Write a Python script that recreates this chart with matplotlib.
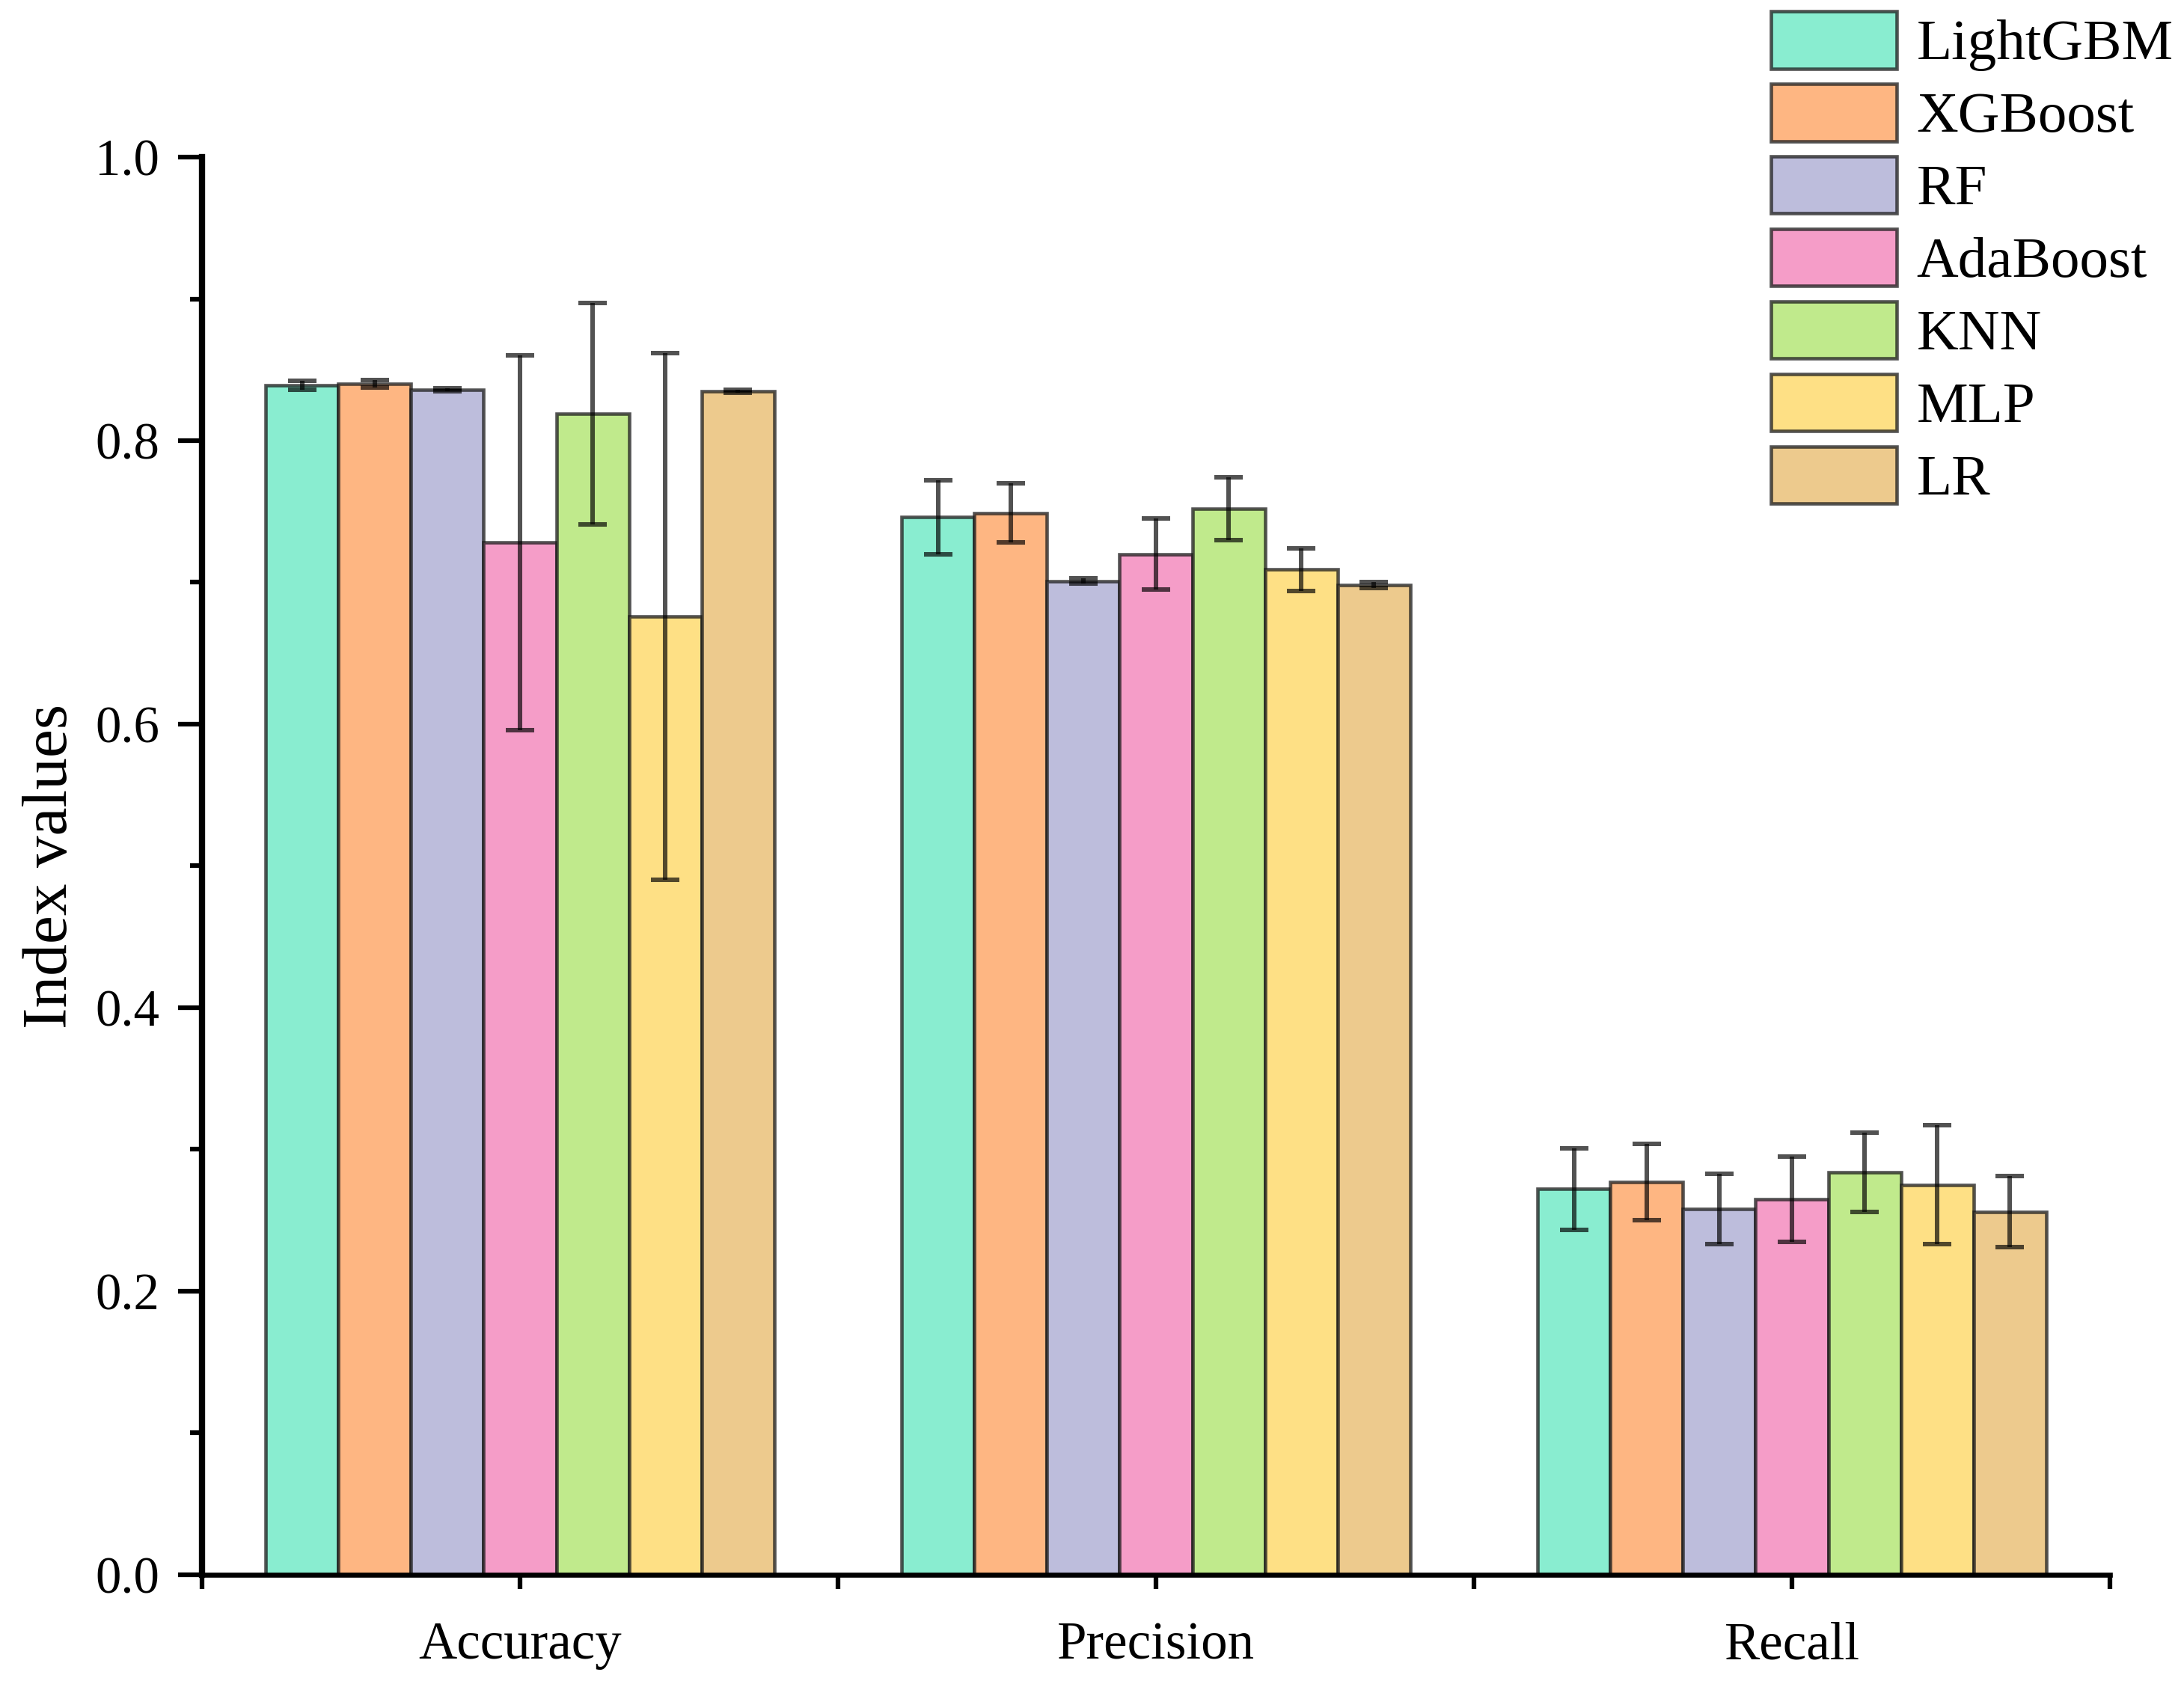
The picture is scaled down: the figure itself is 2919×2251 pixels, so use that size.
import matplotlib
matplotlib.use("Agg")
import matplotlib.pyplot as plt
import numpy as np
from matplotlib.ticker import FixedLocator, MultipleLocator

plt.rcParams['font.family'] = ['Liberation Serif', 'DejaVu Serif']

metrics = ["Accuracy", "Precision", "Recall"]
models = ["LightGBM", "XGBoost", "RF", "AdaBoost", "KNN", "MLP", "LR"]
colors = ["#89EDD0", "#FEB682", "#BDBDDC", "#F59DC8", "#C0EA8C", "#FEE085", "#EDCA8D"]

# values[model] = [Accuracy, Precision, Recall]
lightgbm = [0.839, 0.746, 0.272]
xgboost = [0.840, 0.749, 0.277]
rf = [0.836, 0.701, 0.258]
adaboost = [0.728, 0.720, 0.265]
knn = [0.819, 0.752, 0.284]
mlp = [0.676, 0.709, 0.275]
lr = [0.835, 0.698, 0.256]

lightgbm_err = [0.003, 0.026, 0.029]
xgboost_err = [0.0025, 0.021, 0.027]
rf_err = [0.001, 0.002, 0.025]
adaboost_err = [0.132, 0.025, 0.030]
knn_err = [0.078, 0.022, 0.028]
mlp_err = [0.186, 0.015, 0.042]
lr_err = [0.001, 0.002, 0.025]

values = [lightgbm, xgboost, rf, adaboost, knn, mlp, lr]
errors = [lightgbm_err, xgboost_err, rf_err, adaboost_err, knn_err, mlp_err, lr_err]

fig = plt.figure(figsize=(2919 / 300, 2251 / 300), dpi=300)
ax = fig.add_axes([0.0925, 0.0649, 0.9661 - 0.0925, 0.9067 - 0.0649])

centers = np.arange(len(metrics)) + 0.5
w = 0.8 / len(models)
for i, (m, v, e, c) in enumerate(zip(models, values, errors, colors)):
    x = centers + (i - (len(models) - 1) / 2) * w
    ax.bar(x, v, width=w, color=c, edgecolor=(0.1, 0.1, 0.1, 0.75), linewidth=1.1,
           label=m, zorder=2)
    ax.errorbar(x, v, yerr=e, fmt='none', ecolor=(0, 0, 0, 0.68), elinewidth=1.45,
                capsize=4.6, capthick=1.45, zorder=3)

ax.set_xlim(0, 3)
ax.set_ylim(0, 1.0)
ax.set_xticks(centers)
ax.set_xticklabels(metrics, fontsize=17)
ax.xaxis.set_minor_locator(FixedLocator([0, 1, 2, 3]))
ax.yaxis.set_major_locator(MultipleLocator(0.2))
ax.yaxis.set_minor_locator(MultipleLocator(0.1))
ax.set_yticks(np.arange(0, 1.01, 0.2))
ax.set_yticklabels([f"{t:.1f}" for t in np.arange(0, 1.01, 0.2)], fontsize=16.5)

ax.tick_params(axis='x', which='both', direction='out', length=4.5, width=1.5, pad=10.5)
ax.tick_params(axis='y', which='major', direction='out', length=7.6, width=1.5, pad=6)
ax.tick_params(axis='y', which='minor', direction='out', length=3.8, width=1.5)

for s in ['top', 'right']:
    ax.spines[s].set_visible(False)
ax.spines['left'].set_linewidth(2.0)
ax.spines['bottom'].set_linewidth(1.6)

ax.set_ylabel("Index values", fontsize=20.5, labelpad=5)

handles, labels = ax.get_legend_handles_labels()
fig.legend(handles, labels, loc='upper left', bbox_to_anchor=(0.811, 0.9933),
           frameon=False, fontsize=18.5, handlelength=2.18, handleheight=1.15,
           labelspacing=0.215, handletextpad=0.34, borderpad=0, borderaxespad=0)

fig.savefig("out.png", dpi=300)
